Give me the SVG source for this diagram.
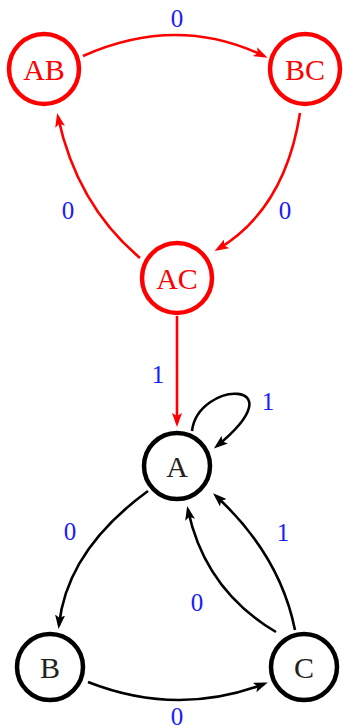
<svg xmlns="http://www.w3.org/2000/svg" width="348" height="728" viewBox="0 0 348 728">
<style>
.rn{fill:#fff;stroke:#f00;stroke-width:4.5}
.bn{fill:#fff;stroke:#000;stroke-width:4.5}
.rt{fill:#f00;font-family:"Liberation Serif","DejaVu Serif",serif;font-size:30px;text-anchor:middle;dominant-baseline:central}
.bt{fill:#222;font-family:"Liberation Serif","DejaVu Serif",serif;font-size:30px;text-anchor:middle;dominant-baseline:central}
.lb{fill:#1a1aff;font-family:"Liberation Serif","DejaVu Serif",serif;font-size:25px;text-anchor:middle;dominant-baseline:central}
.re{fill:none;stroke:#f00;stroke-width:2.6;marker-end:url(#ar)}
.be{fill:none;stroke:#000;stroke-width:2.6;marker-end:url(#ab)}
</style>
<defs>
<marker id="ar" viewBox="0 0 14 10" markerWidth="14" markerHeight="10" markerUnits="userSpaceOnUse" refX="10" refY="5" orient="auto"><path d="M0,0 L14,5 L0,10 L3,5 z" fill="#f00"/></marker>
<marker id="ab" viewBox="0 0 14 10" markerWidth="14" markerHeight="10" markerUnits="userSpaceOnUse" refX="10" refY="5" orient="auto"><path d="M0,0 L14,5 L0,10 L3,5 z" fill="#000"/></marker>
</defs>
<g id="edges">
<path class="re" d="M83,56 Q177,14 264,56"/>
<path class="re" d="M300,113 Q285,209 218,249"/>
<path class="re" d="M140,258 Q77,205 58,117"/>
<path class="re" d="M177,316 L177,423"/>
<path class="be" d="M192,431 C198,380 300,378 217,446"/>
<path class="be" d="M148,491 Q67,550 59,625"/>
<path class="be" d="M88,682 Q177,717 264,684"/>
<path class="be" d="M295,630 Q280,555 216,496"/>
<path class="be" d="M276,632 Q205,590 188,510"/>
</g>
<g id="labels">
<text class="lb" x="177" y="18">0</text>
<text class="lb" x="285" y="210">0</text>
<text class="lb" x="68" y="210">0</text>
<text class="lb" x="158" y="374">1</text>
<text class="lb" x="268" y="401">1</text>
<text class="lb" x="70" y="531">0</text>
<text class="lb" x="283" y="532">1</text>
<text class="lb" x="197" y="602">0</text>
<text class="lb" x="177" y="716">0</text>
</g>
<g id="AB"><circle class="rn" cx="44" cy="69" r="35"/><text class="rt" x="44" y="69">AB</text></g>
<g id="BC"><circle class="rn" cx="305" cy="69" r="35"/><text class="rt" x="305" y="69">BC</text></g>
<g id="AC"><circle class="rn" cx="177" cy="278" r="35"/><text class="rt" x="177" y="278">AC</text></g>
<g id="A"><circle class="bn" cx="177" cy="466" r="33"/><text class="bt" x="177" y="466">A</text></g>
<g id="B"><circle class="bn" cx="50" cy="667" r="33"/><text class="bt" x="50" y="667">B</text></g>
<g id="C"><circle class="bn" cx="304" cy="667" r="33"/><text class="bt" x="304" y="667">C</text></g>
</svg>
